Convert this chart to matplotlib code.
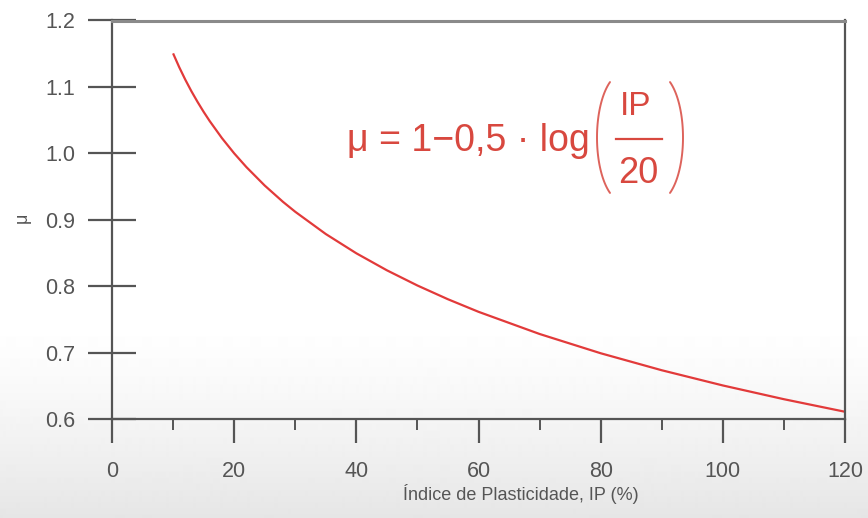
import numpy as np
import matplotlib
matplotlib.use("Agg")
import matplotlib.pyplot as plt
from matplotlib.lines import Line2D
from matplotlib.ticker import MultipleLocator, FormatStrFormatter

# Plasticity index (%) and correction factor mu
ip = [10, 11, 12, 13, 14, 15, 16, 18, 20, 22, 25, 28, 30, 35, 40, 45, 50,
      55, 60, 70, 80, 90, 100, 110, 120]
mu = [1.1505, 1.1298, 1.1109, 1.0935, 1.0775, 1.0625, 1.0485, 1.0229, 1.0000,
      0.9793, 0.9515, 0.9269, 0.9120, 0.8785, 0.8495, 0.8239, 0.8010, 0.7803,
      0.7614, 0.7280, 0.6990, 0.6734, 0.6505, 0.6298, 0.6109]

x_ticks = [0, 20, 40, 60, 80, 100, 120]
y_ticks = [0.6, 0.7, 0.8, 0.9, 1.0, 1.1, 1.2]

plt.rcParams["font.family"] = ["Liberation Sans", "DejaVu Sans"]

W, H = 868, 518
fig = plt.figure(figsize=(W / 100, H / 100), dpi=100)


def fx(px):
    return np.asarray(px) / W


def fy(py):
    return 1 - np.asarray(py) / H


# soft grey fade towards the bottom of the canvas
bg = fig.add_axes([0, 0, 1, 1], zorder=-10)
rows = np.ones(H)
start = 320
rows[start:] = 1.0 - 0.10 * ((np.arange(start, H) - start) / (H - start)) ** 1.3
bg.imshow(rows[:, None], aspect="auto", cmap="gray", vmin=0, vmax=1,
          extent=[0, 1, 0, 1], interpolation="bilinear")
bg.axis("off")

left, right, top, bottom = 112, 845, 20.5, 419
ax = fig.add_axes([fx(left), fy(bottom), (right - left) / W, (bottom - top) / H])
ax.patch.set_alpha(0)

ax.plot(ip, mu, color="#e23a3a", lw=1.6, solid_capstyle="butt")

ax.set_xlim(0, 120)
ax.set_ylim(0.6, 1.2)

axis_col = "#555555"
label_col = "#555555"
for side in ["left", "right", "bottom"]:
    ax.spines[side].set_color(axis_col)
    ax.spines[side].set_linewidth(1.6)
ax.spines["top"].set_color("#8a8a8a")
ax.spines["top"].set_linewidth(2.2)

ax.set_xticks(x_ticks)
ax.xaxis.set_minor_locator(MultipleLocator(10))
ax.set_yticks(y_ticks)
ax.yaxis.set_major_formatter(FormatStrFormatter("%.1f"))

ax.tick_params(axis="x", which="major", direction="out", length=17, width=1.6,
               color=axis_col, labelsize=15.5, labelcolor=label_col, pad=13)
ax.tick_params(axis="x", which="minor", direction="out", length=8, width=1.4,
               color=axis_col)
ax.tick_params(axis="y", which="major", direction="inout", length=35, width=1.6,
               color=axis_col, labelsize=15.5, labelcolor=label_col, pad=9)

ax.set_xlabel("Índice de Plasticidade, IP (%)", fontsize=13, color=label_col, va="center")
ax.xaxis.set_label_coords((521 - left) / (right - left), (bottom - 494) / (bottom - top))
ax.set_ylabel("μ", fontsize=13, color=label_col, va="center")
ax.yaxis.set_label_coords((22 - left) / (right - left), (bottom - 218) / (bottom - top))

# formula annotation: mu = 1 - 0,5 * log(IP / 20)
red = "#d8483f"
fig.text(fx(347), fy(151), "μ = 1−0,5 · log", fontsize=27, color=red,
         ha="left", va="baseline")
fig.text(fx(636), fy(115), "IP", fontsize=24, color=red, ha="center", va="baseline")
fig.text(fx(638), fy(183), "20", fontsize=26, color=red, ha="center", va="baseline")
fig.add_artist(Line2D(fx([616, 662]), fy([139, 139]), color=red, lw=1.6,
                      transform=fig.transFigure))

# tall thin brackets around the fraction (elliptical arcs, pixel geometry)
paren_a, paren_b, paren_cy = 26, 64, 137.5
t = np.radians(np.linspace(-60, 60, 60))
for cx, sign in [(623, -1), (657, 1)]:
    px = cx + sign * paren_a * np.cos(t)
    py = paren_cy + paren_b * np.sin(t)
    fig.add_artist(Line2D(fx(px), fy(py), color=red, lw=1.4, alpha=0.85,
                          solid_capstyle="round", transform=fig.transFigure))

fig.savefig("out.png", dpi=100)
